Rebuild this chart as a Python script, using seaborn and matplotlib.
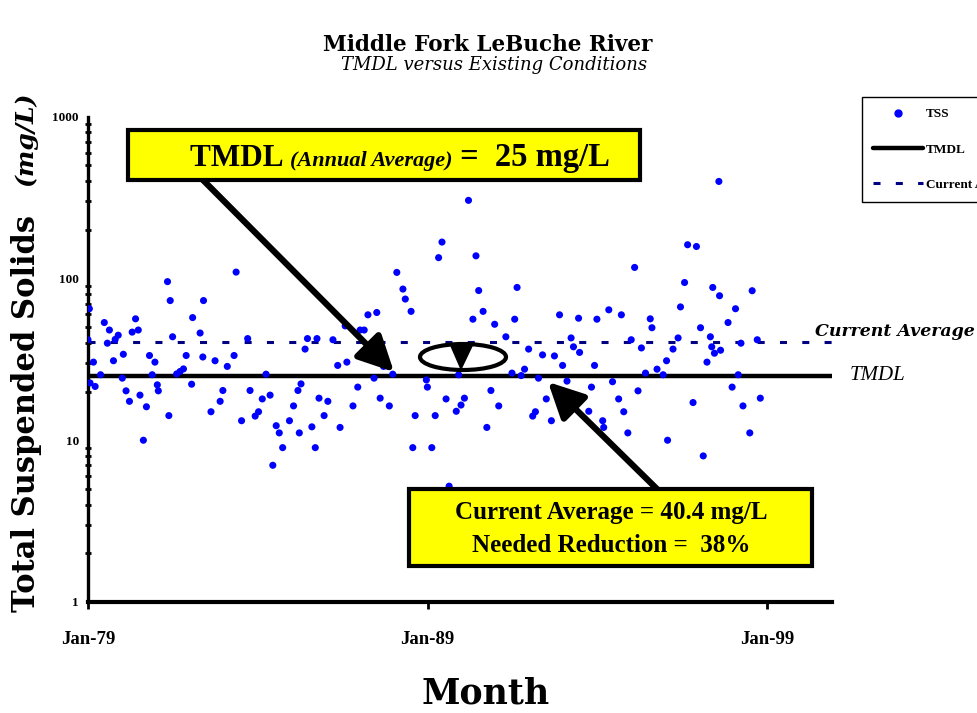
import numpy as np
import pandas as pd
import matplotlib
matplotlib.use("Agg")
import matplotlib.pyplot as plt
import seaborn as sns
from matplotlib.patches import Rectangle, Ellipse, Polygon
from matplotlib.ticker import FixedLocator, LogLocator, NullFormatter, FixedFormatter
from matplotlib.lines import Line2D

# ---------------- data ----------------
month_year = [
    1979.00, 1979.04, 1979.06, 1979.16, 1979.21, 1979.37, 1979.48, 1979.57, 1979.63, 1979.75,
    1979.80, 1979.89, 1980.01, 1980.04, 1980.12, 1980.22, 1980.30, 1980.40, 1980.48, 1980.53,
    1980.63, 1980.72, 1980.81, 1980.89, 1980.97, 1981.04, 1981.07, 1981.34, 1981.38, 1981.42,
    1981.49, 1981.61, 1981.71, 1981.81, 1981.89, 1982.05, 1982.08, 1982.30, 1982.38, 1982.40,
    1982.62, 1982.74, 1982.89, 1982.97, 1983.10, 1983.30, 1983.36, 1983.52, 1983.70, 1983.77,
    1983.92, 1984.02, 1984.13, 1984.24, 1984.36, 1984.44, 1984.54, 1984.63, 1984.73, 1984.93,
    1985.05, 1985.18, 1985.22, 1985.27, 1985.39, 1985.46, 1985.59, 1985.69, 1985.74, 1985.80,
    1985.95, 1986.06, 1986.21, 1986.35, 1986.42, 1986.57, 1986.62, 1986.80, 1986.94, 1987.01,
    1987.13, 1987.24, 1987.36, 1987.42, 1987.50, 1987.60, 1987.70, 1987.87, 1987.97, 1988.09,
    1988.27, 1988.34, 1988.51, 1988.56, 1988.63, 1988.96, 1988.99, 1989.12, 1989.22, 1989.32,
    1989.42, 1989.54, 1989.63, 1989.84, 1989.91, 1989.98, 1990.08, 1990.20, 1990.33, 1990.42,
    1990.50, 1990.63, 1990.74, 1990.86, 1990.97, 1991.09, 1991.30, 1991.48, 1991.56, 1991.63,
    1991.75, 1991.85, 1991.97, 1992.09, 1992.17, 1992.26, 1992.38, 1992.49, 1992.64, 1992.73,
    1992.88, 1992.97, 1993.10, 1993.22, 1993.29, 1993.44, 1993.47, 1993.74, 1993.82, 1993.91,
    1993.98, 1994.15, 1994.18, 1994.33, 1994.44, 1994.62, 1994.70, 1994.77, 1994.89, 1994.99,
    1995.09, 1995.19, 1995.29, 1995.41, 1995.55, 1995.60, 1995.75, 1995.93, 1996.03, 1996.06,
    1996.22, 1996.37, 1996.44, 1996.56, 1996.65, 1996.81, 1996.91, 1997.03, 1997.11, 1997.22,
    1997.32, 1997.36, 1997.39, 1997.44, 1997.57, 1997.59, 1997.62, 1997.84, 1997.96, 1998.06,
    1998.14, 1998.22, 1998.28, 1998.48, 1998.55, 1998.70, 1998.79,
]
tss_mg_l = [
    41.8, 65.0, 22.6, 30.4, 21.5, 25.4, 53.4, 39.8, 48.0, 31.0,
    42.0, 44.6, 24.2, 34.0, 20.2, 17.4, 46.6, 56.3, 48.0, 19.0,
    10.0, 16.1, 33.4, 25.4, 30.4, 22.0, 20.2, 95.6, 14.2, 73.0,
    43.6, 25.7, 26.6, 27.6, 33.4, 22.2, 57.3, 46.0, 32.7, 73.0,
    15.0, 31.0, 17.4, 20.3, 28.6, 33.4, 109.5, 13.2, 42.5, 20.3,
    14.1, 15.0, 18.0, 25.6, 19.0, 7.0, 12.3, 11.1, 9.0, 13.2,
    16.3, 20.3, 11.1, 22.3, 36.6, 42.5, 12.1, 9.0, 42.5, 18.2,
    14.2, 17.4, 41.8, 29.0, 12.0, 50.9, 30.4, 16.3, 21.3, 48.0,
    48.0, 59.6, 33.0, 24.2, 61.6, 18.2, 28.6, 16.3, 25.6, 109.0,
    86.0, 74.6, 62.6, 9.0, 14.2, 23.6, 21.3, 9.0, 14.2, 134.5,
    167.9, 18.0, 5.2, 15.1, 25.4, 16.5, 18.2, 304.0, 56.0, 138.0,
    84.2, 62.6, 12.0, 20.3, 52.1, 16.3, 43.6, 26.0, 56.0, 88.0,
    25.1, 27.5, 36.6, 14.1, 15.0, 24.2, 33.7, 18.0, 13.2, 33.2,
    59.6, 29.0, 23.2, 42.9, 37.8, 56.8, 34.9, 15.1, 21.3, 29.0,
    56.0, 13.2, 12.0, 64.0, 23.0, 18.0, 59.6, 15.0, 11.1, 41.8,
    117.0, 20.2, 37.2, 26.0, 56.3, 49.6, 27.5, 25.4, 31.0, 10.0,
    36.6, 42.9, 66.7, 94.4, 161.6, 17.1, 157.6, 49.6, 8.0, 30.4,
    43.6, 37.8, 88.0, 34.5, 398.0, 78.2, 36.0, 53.4, 21.3, 65.0,
    25.4, 39.8, 16.3, 11.1, 84.0, 41.8, 18.2,
]
tmdl_value = 25.0
current_average = 40.4
x_range = [1979.0, 2000.9]
x_ticks = [1979, 1989, 1999]
x_tick_labels = ["Jan-79", "Jan-89", "Jan-99"]
y_ticks = [1, 10, 100, 1000]
y_tick_labels = ["1", "10", "100", "1000"]

# ---------------- style ----------------
sns.set_theme(style="white")
plt.rcParams["font.family"] = ["Liberation Serif", "DejaVu Serif"]
for key in ["text.color", "axes.labelcolor", "xtick.color", "ytick.color"]:
    plt.rcParams[key] = "black"
WIDE = ["DejaVu Serif", "Liberation Serif"]

W, H = 978, 713
fig = plt.figure(figsize=(W / 100, H / 100), dpi=100)


def fx(px):
    return px / W


def fy(py):
    return 1 - py / H


ax = fig.add_axes([fx(88), fy(602), (832 - 88) / W, (602 - 116.7) / H])

df = pd.DataFrame({"Month": month_year, "TSS": tss_mg_l})
sns.scatterplot(data=df, x="Month", y="TSS", ax=ax, color="#0000FF", s=26,
                edgecolor="none", zorder=3, legend=False)

lines_df = pd.DataFrame({
    "Month": x_range + x_range,
    "value": [tmdl_value, tmdl_value, current_average, current_average],
    "series": ["TMDL", "TMDL", "Current Average", "Current Average"],
})
sns.lineplot(data=lines_df[lines_df.series == "TMDL"], x="Month", y="value",
             ax=ax, color="black", linewidth=3.2, zorder=2, legend=False)
sns.lineplot(data=lines_df[lines_df.series == "Current Average"], x="Month", y="value",
             ax=ax, color="#000080", linewidth=2.2, zorder=2, legend=False)
ax.lines[-1].set_linestyle((0, (2.3, 5.0)))

ax.set_yscale("log")
ax.set_ylim(1, 1000)
ax.set_xlim(*x_range)
ax.set_xlabel("")
ax.set_ylabel("")

ax.yaxis.set_major_locator(FixedLocator(y_ticks))
ax.yaxis.set_major_formatter(FixedFormatter(y_tick_labels))
ax.yaxis.set_minor_locator(LogLocator(base=10, subs=np.arange(2, 10)))
ax.yaxis.set_minor_formatter(NullFormatter())
ax.xaxis.set_major_locator(FixedLocator(x_ticks))
ax.xaxis.set_major_formatter(FixedFormatter(x_tick_labels))

for s in ["top", "right"]:
    ax.spines[s].set_visible(False)
ax.spines["left"].set_linewidth(2.4)
ax.spines["bottom"].set_linewidth(3.0)
ax.spines["left"].set_color("black")
ax.spines["bottom"].set_color("black")

ax.tick_params(axis="y", which="major", direction="inout", length=7, width=3,
               color="black", labelcolor="black", labelsize=9.5, pad=3)
ax.tick_params(axis="y", which="minor", direction="inout", length=4, width=2,
               color="black", left=True)
ax.tick_params(axis="x", which="major", direction="out", length=5, width=2,
               color="black", labelcolor="black", labelsize=13.5, pad=16, bottom=True)
for lab in ax.get_yticklabels() + ax.get_xticklabels():
    lab.set_fontweight("bold")

# ---------------- titles / labels ----------------
fig.text(fx(488), fy(45), "Middle Fork LeBuche River", ha="center", va="center",
         fontsize=15.5, fontweight="bold", family=WIDE)
fig.text(fx(494), fy(65), "TMDL versus Existing Conditions", ha="center", va="center",
         fontsize=13, style="italic", family=WIDE)
fig.text(fx(486), fy(693), "Month", ha="center", va="center",
         fontsize=25, fontweight="bold", family=WIDE)
fig.text(fx(27), fy(612), "Total Suspended Solids", rotation=90, ha="center", va="bottom",
         fontsize=22, fontweight="bold", family=WIDE)
fig.text(fx(25), fy(186), "(mg/L)", rotation=90, ha="center", va="bottom",
         fontsize=18, fontweight="bold", style="italic", family=WIDE)

fig.text(fx(815), fy(331), "Current Average", ha="left", va="center",
         fontsize=12.5, fontweight="bold", style="italic", family=WIDE)
fig.text(fx(850), fy(376), "TMDL", ha="left", va="center",
         fontsize=15, style="italic")

# ---------------- annotation boxes ----------------
box1 = Rectangle((fx(128), fy(180)), (640 - 128) / W, (180 - 130) / H,
                 transform=fig.transFigure, facecolor="#FFFF00", edgecolor="black",
                 linewidth=3, zorder=5)
fig.add_artist(box1)
box2 = Rectangle((fx(409), fy(566)), (812 - 409) / W, (566 - 489) / H,
                 transform=fig.transFigure, facecolor="#FFFF00", edgecolor="black",
                 linewidth=3, zorder=5)
fig.add_artist(box2)

# box 1 text pieces placed one after another, centred in the box
pieces = [("TMDL ", dict(fontsize=22.5, fontweight="bold")),
          ("(Annual Average)", dict(fontsize=16, fontweight="bold", style="italic")),
          (" =  25 mg/L", dict(fontsize=23.5, fontweight="bold"))]
renderer = fig.canvas.get_renderer()
texts = []
for s, kw in pieces:
    t = fig.text(0, fy(166), s, ha="left", va="baseline", zorder=6, **kw)
    texts.append(t)
widths = [t.get_window_extent(renderer).width for t in texts]
total = sum(widths)
start = (128 + 640) / 2 - total / 2 + 16
for t, w in zip(texts, widths):
    t.set_x(fx(start))
    start += w

fig.text(fx(611), fy(513), "Current Average = 40.4 mg/L", ha="center", va="center",
         fontsize=18, fontweight="bold", zorder=6)
fig.text(fx(611), fy(545), "Needed Reduction =  38%", ha="center", va="center",
         fontsize=18, fontweight="bold", zorder=6)

# ---------------- arrows ----------------
arrow_kw = dict(arrowstyle="-|>,head_length=0.9,head_width=0.45", lw=4.5, color="black",
                shrinkA=0, shrinkB=0, mutation_scale=24)
ax.annotate("", xy=(394, H - 372), xycoords="figure pixels",
            xytext=(203, H - 180), textcoords="figure pixels",
            arrowprops=arrow_kw, zorder=4)
ax.annotate("", xy=(548, H - 382), xycoords="figure pixels",
            xytext=(657, H - 489), textcoords="figure pixels",
            arrowprops=arrow_kw, zorder=4)

ell = Ellipse((fx(463), fy(357)), 86 / W, 26 / H, transform=fig.transFigure,
              facecolor="none", edgecolor="black", linewidth=3, zorder=4)
fig.add_artist(ell)
tri = Polygon([(fx(451), fy(346)), (fx(472), fy(346)), (fx(461), fy(369))],
              closed=True, transform=fig.transFigure, facecolor="black",
              edgecolor="black", zorder=4)
fig.add_artist(tri)

# ---------------- legend ----------------
handles = [
    Line2D([], [], marker="o", linestyle="none", color="#0000FF", markersize=5),
    Line2D([], [], color="black", linewidth=3.2),
    Line2D([], [], color="#000080", linewidth=2.2, linestyle=(0, (2.3, 5.0))),
]
leg = fig.legend(handles, ["TSS", "TMDL", "Current Average"], loc="upper left",
                 bbox_to_anchor=(fx(862), fy(97)), borderaxespad=0.0,
                 frameon=True, fancybox=False,
                 edgecolor="black", framealpha=1, borderpad=0.85, labelspacing=1.75,
                 handlelength=3.8, handletextpad=0.2,
                 prop=dict(family=["Liberation Serif"], weight="bold", size=9.5))
leg.get_frame().set_linewidth(1.0)
for t in leg.get_texts():
    t.set_color("black")

fig.savefig("out.png", dpi=100)
